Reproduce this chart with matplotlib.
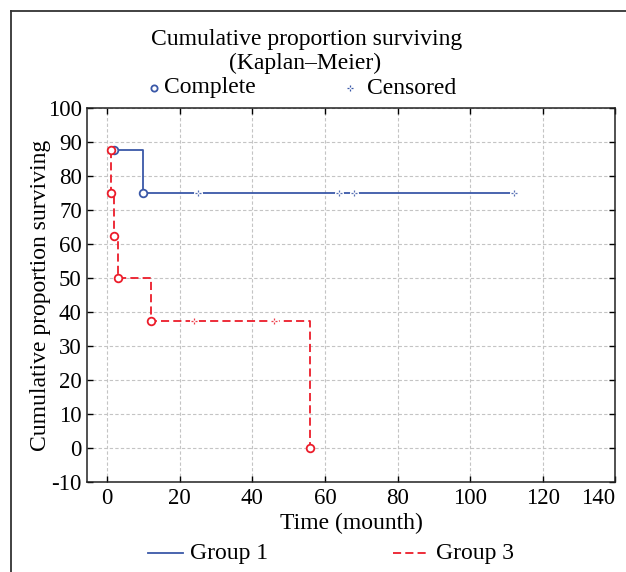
import numpy as np
import matplotlib
matplotlib.use("Agg")
import matplotlib.pyplot as plt
from matplotlib.lines import Line2D
from matplotlib.path import Path

plt.rcParams['font.family'] = ['Liberation Serif', 'DejaVu Serif']
plt.rcParams['font.size'] = 17
plt.rcParams['axes.unicode_minus'] = False

# Group 1: complete (event) times and survival, censored times
g1_event_t = [2, 10]
g1_event_s = [87.5, 75]
g1_cens_t = [25, 64, 68, 112]
g1_cens_s = [75, 75, 75, 75]

# Group 3
g3_event_t = [1, 1, 2, 3, 12, 56]
g3_event_s = [87.5, 75, 62.5, 50, 37.5, 0]
g3_cens_t = [24, 46]
g3_cens_s = [37.5, 37.5]

xticks = [0, 20, 40, 60, 80, 100, 120, 140]
yticks = [-10, 0, 10, 20, 30, 40, 50, 60, 70, 80, 90, 100]

blue = '#3a58a8'
red = '#ec1c2a'

# hollow plus used for censored points
cens_marker = Path([(0, 0.4), (0, 1), (0, -0.4), (0, -1),
                    (0.4, 0), (1, 0), (-0.4, 0), (-1, 0)],
                   [Path.MOVETO, Path.LINETO] * 4)

def steps(et, es, ct, cs):
    t = np.concatenate([et, ct])
    s = np.concatenate([es, cs])
    order = np.lexsort((-s, t))
    return t[order], s[order]

fig = plt.figure(figsize=(6.26, 5.72), dpi=100)
ax = fig.add_axes([0.1395, 0.1573, 0.8437, 0.6539])

t1, s1 = steps(g1_event_t, g1_event_s, g1_cens_t, g1_cens_s)
t3, s3 = steps(g3_event_t, g3_event_s, g3_cens_t, g3_cens_s)

ax.plot(t1, s1, drawstyle='steps-post', color=blue, lw=1.3, zorder=3)
ax.plot(t3, s3, drawstyle='steps-post', color=red, lw=1.3, dashes=(4.5, 2.3), zorder=3)

# gaps in the line at censored points, then the marker
for ct, cs, c in [(g1_cens_t, g1_cens_s, blue), (g3_cens_t, g3_cens_s, red)]:
    ax.plot(ct, cs, ls='none', marker='o', ms=6.5, mfc='white', mec='none', zorder=4)
    ax.plot(ct, cs, ls='none', marker=cens_marker, ms=4.5, mec=c, mew=0.9, alpha=0.85, zorder=5)

ax.plot(g1_event_t, g1_event_s, ls='none', marker='o', ms=5.5, mfc='white', mec=blue, mew=1.3, zorder=6)
ax.plot(g3_event_t, g3_event_s, ls='none', marker='o', ms=5.5, mfc='white', mec=red, mew=1.3, zorder=6)

ax.set_xlim(-5.4, 140)
ax.set_ylim(-10, 100)
ax.set_xticks(xticks)
ax.set_yticks(yticks)
ax.tick_params(direction='in', top=True, right=True, length=4, width=1, pad=4, labelsize=16.5)
ax.get_xticklabels()[-1].set_ha('right')
ax.grid(True, color='#c4c4c4', ls=(0, (3, 2)), lw=0.8)
ax.set_axisbelow(True)
for sp in ax.spines.values():
    sp.set_linewidth(1.1)
    sp.set_color('#222222')

ax.set_xlabel('Time (mounth)', labelpad=3)
ax.set_ylabel('Cumulative proportion surviving', labelpad=-2)

# titles
fig.text(0.49, 1 - 39 / 572, 'Cumulative proportion surviving', ha='center', va='center')
fig.text(0.488, 1 - 63 / 572, '(Kaplan\u2013Meier)', ha='center', va='center')

# top legend
ly = 1 - 88 / 572
fig.add_artist(Line2D([154 / 626], [ly], marker='o', ms=4.5, mfc='white', mec=blue, mew=1.3, ls='none'))
fig.text(164 / 626, ly, 'Complete', ha='left', va='center')
fig.add_artist(Line2D([350 / 626], [ly], marker=cens_marker, ms=4.5, mec=blue, mew=0.9, ls='none'))
fig.text(367 / 626, ly, 'Censored', ha='left', va='center')

# bottom legend
by = 1 - 553 / 572
fig.add_artist(Line2D([148 / 626, 183 / 626], [by, by], color=blue, lw=1.3))
fig.text(190 / 626, by, 'Group 1', ha='left', va='center')
fig.add_artist(Line2D([393 / 626, 428 / 626], [by, by], color=red, lw=1.3, dashes=(4.5, 2.3)))
fig.text(436 / 626, by, 'Group 3', ha='left', va='center')

# outer frame (left and top edges)
fig.add_artist(Line2D([11 / 626, 11 / 626], [0, 1 - 11 / 572], color='#333333', lw=1.3))
fig.add_artist(Line2D([11 / 626, 1], [1 - 11 / 572, 1 - 11 / 572], color='#333333', lw=1.3))

fig.savefig('out.png', dpi=100)
